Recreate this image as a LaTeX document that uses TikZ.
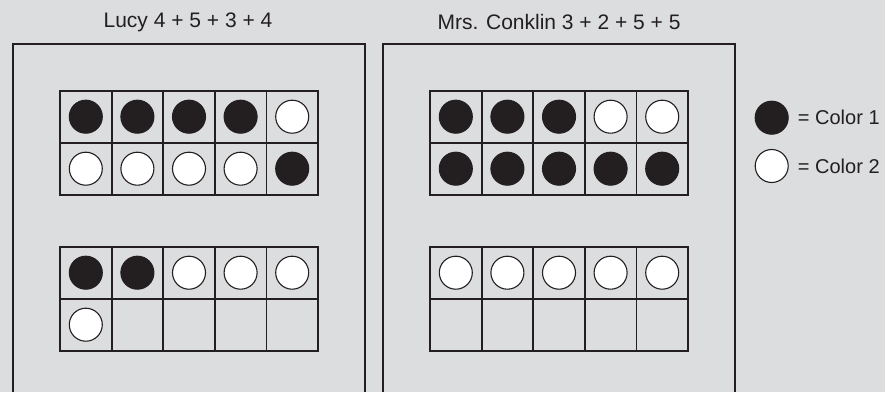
\documentclass[tikz,border=0pt]{standalone}
\usepackage{fontspec}
\setmainfont{Liberation Sans}
\usepackage{tikz}
\usetikzlibrary{positioning, calc}
\definecolor{pagegrey}{HTML}{DCDDDF}
\definecolor{inkdark}{HTML}{231F20}

% one ten-frame: #1 name, #2 left x, #3 top y, #4 counters in reading order
\newcommand{\tenframe}[4]{%
  \draw[framegrid] (#2,#3) rectangle ++(258,-104);
  \draw[framegrid] (#2,#3-52) -- ++(258,0);
  \foreach \i in {1,...,4}
    \draw[framegrid] (#2+51.6*\i,#3) -- ++(0,-104);
  \foreach \c [count=\k from 0] in {#4} {
    \pgfmathtruncatemacro{\col}{mod(\k,5)}
    \pgfmathtruncatemacro{\row}{div(\k,5)}
    \node[\c] (#1-\k) at (#2+25.8+51.6*\col, #3-26-52*\row) {};
  }%
}

\begin{document}
\begin{tikzpicture}[x=1pt, y=1pt,
    framegrid/.style={inkdark, line width=1.8pt},
    panel/.style={inkdark, line width=2pt},
    dotone/.style={circle, fill=inkdark, draw=inkdark, line width=1.1pt,
                   minimum size=33pt, inner sep=0pt},
    dottwo/.style={circle, fill=white, draw=inkdark, line width=1.1pt,
                   minimum size=33pt, inner sep=0pt},
    heading/.style={font=\fontsize{21}{25}\selectfont, text=inkdark, inner sep=0pt},
    legendtext/.style={font=\fontsize{20}{24}\selectfont, text=inkdark, inner sep=0pt}]

  \fill[pagegrey] (0,0) rectangle (885,392);
  \useasboundingbox (0,0) rectangle (885,392);

  % Lucy
  \node[heading] (lucytitle) at (188,370) {Lucy 4 + 5 + 3 + 4};
  \draw[panel] (13,0) -- (13,347.7) -- (365,347.7) -- (365,0);
  \tenframe{lucytop}{60}{301.3}{dotone,dotone,dotone,dotone,dottwo,
                                 dottwo,dottwo,dottwo,dottwo,dotone}
  \tenframe{lucybot}{60}{145.3}{dotone,dotone,dottwo,dottwo,dottwo,dottwo}

  % Mrs. Conklin
  \node[heading] (conklintitle) at (559,370) {Mrs. Conklin 3 + 2 + 5 + 5};
  \draw[panel] (382.5,0) -- (382.5,347.7) -- (735,347.7) -- (735,0);
  \tenframe{conktop}{430}{301.3}{dotone,dotone,dotone,dottwo,dottwo,
                                  dotone,dotone,dotone,dotone,dotone}
  \tenframe{conkbot}{430}{145.3}{dottwo,dottwo,dottwo,dottwo,dottwo}

  % key
  \node[dotone] (keyone) at (771.7,274.3) {};
  \node[dottwo] (keytwo) at (771.7,226) {};
  \node[legendtext, right=9pt of keyone] (keyonetext) {= Color 1};
  \node[legendtext, right=9pt of keytwo] (keytwotext) {= Color 2};
\end{tikzpicture}
\end{document}
